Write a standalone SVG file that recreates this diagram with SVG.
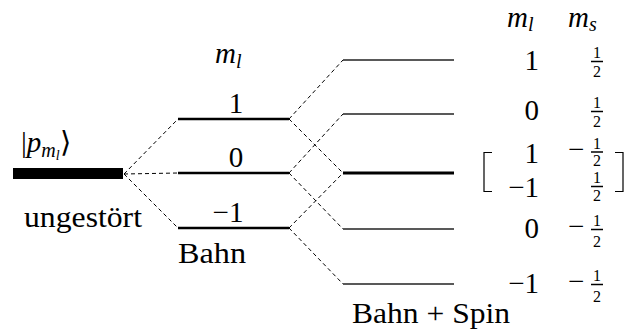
<svg xmlns="http://www.w3.org/2000/svg" width="624" height="336" viewBox="0 0 624 336" font-family="Liberation Serif">
<style>
text{fill:#000;font-family:"Liberation Serif",serif}
.t{font-size:29px}
.i{font-style:italic}
.sub{font-size:20px;font-style:italic}
.subsub{font-size:14px;font-style:italic}
.fr{font-size:16px;text-anchor:middle}
.r{text-anchor:end}
.c{text-anchor:middle}
.dash{stroke:#000;stroke-width:1;stroke-dasharray:4 3;fill:none}
.lvl{stroke:#000;stroke-width:2.5}
.lvlt{stroke:#222;stroke-width:1.5}
.lvlb{stroke:#000;stroke-width:3}
.fb{stroke:#000;stroke-width:1.5}
.br{fill:none;stroke:#000;stroke-width:1.2}
</style>
<g id="connectors">
<line class="dash" x1="124" y1="174" x2="178" y2="119"/>
<line class="dash" x1="124" y1="174" x2="178" y2="173"/>
<line class="dash" x1="124" y1="174" x2="178" y2="228"/>
<line class="dash" x1="289" y1="119" x2="343" y2="60"/>
<line class="dash" x1="289" y1="119" x2="343" y2="173"/>
<line class="dash" x1="289" y1="173" x2="343" y2="114"/>
<line class="dash" x1="289" y1="173" x2="343" y2="229"/>
<line class="dash" x1="289" y1="228" x2="343" y2="173"/>
<line class="dash" x1="289" y1="228" x2="343" y2="284"/>
</g>
<g id="unperturbed">
<rect x="13" y="168" width="110" height="11" fill="#000"/>
<text x="21" y="152" class="t">|<tspan class="i">p</tspan><tspan class="sub" dy="5">m</tspan><tspan class="subsub" dy="3">l</tspan><tspan dy="-8">⟩</tspan></text>
<text x="24" y="227" class="t" textLength="118" lengthAdjust="spacingAndGlyphs">ungestört</text>
</g>
<g id="orbit">
<text x="215" y="63" class="t i" font-size="31">m<tspan class="sub" dy="5">l</tspan></text>
<line class="lvl" x1="178" y1="119" x2="289" y2="119"/>
<line class="lvl" x1="178" y1="173" x2="289" y2="173"/>
<line class="lvl" x1="178" y1="228" x2="289" y2="228"/>
<text x="236" y="113" class="t c">1</text>
<text x="236" y="167" class="t c">0</text>
<text x="228" y="222" class="t c">−1</text>
<text x="178" y="263" class="t" textLength="68" lengthAdjust="spacingAndGlyphs">Bahn</text>
</g>
<g id="orbit-spin">
<line class="lvlt" x1="343" y1="60" x2="454" y2="60"/>
<line class="lvlt" x1="343" y1="114" x2="454" y2="114"/>
<line class="lvlb" x1="343" y1="173" x2="454" y2="173"/>
<line class="lvlt" x1="343" y1="229" x2="454" y2="229"/>
<line class="lvlt" x1="343" y1="284" x2="454" y2="284"/>
<text x="352" y="323" class="t" textLength="158" lengthAdjust="spacingAndGlyphs">Bahn + Spin</text>
</g>
<g id="table">
<text x="507" y="27" class="t i" font-size="31">m<tspan class="sub" dy="4">l</tspan></text>
<text x="568" y="27" class="t i" font-size="31">m<tspan class="sub" dy="4">s</tspan></text>
<text x="539" y="70" class="t r">1</text>
<text x="597" y="58" class="fr">1</text><line class="fb" x1="591" y1="61.5" x2="603" y2="61.5"/><text x="597" y="77" class="fr">2</text>
<text x="539" y="120" class="t r">0</text>
<text x="597" y="108" class="fr">1</text><line class="fb" x1="591" y1="111.5" x2="603" y2="111.5"/><text x="597" y="127" class="fr">2</text>
<text x="539" y="163" class="t r">1</text>
<text x="568" y="159" class="t">−</text>
<text x="597" y="149" class="fr">1</text><line class="fb" x1="591" y1="152" x2="603" y2="152"/><text x="597" y="166" class="fr">2</text>
<text x="539" y="197" class="t r">−1</text>
<text x="597" y="183" class="fr">1</text><line class="fb" x1="591" y1="186.5" x2="603" y2="186.5"/><text x="597" y="201" class="fr">2</text>
<path class="br" d="M492,152.5 H484 V191.5 H492"/>
<path class="br" d="M615,152.5 H623 V191.5 H615"/>
<text x="539" y="238" class="t r">0</text>
<text x="568" y="236" class="t">−</text>
<text x="597" y="226" class="fr">1</text><line class="fb" x1="591" y1="229.5" x2="603" y2="229.5"/><text x="597" y="247" class="fr">2</text>
<text x="539" y="293" class="t r">−1</text>
<text x="568" y="291" class="t">−</text>
<text x="597" y="281" class="fr">1</text><line class="fb" x1="591" y1="284.5" x2="603" y2="284.5"/><text x="597" y="302" class="fr">2</text>
</g>
</svg>
